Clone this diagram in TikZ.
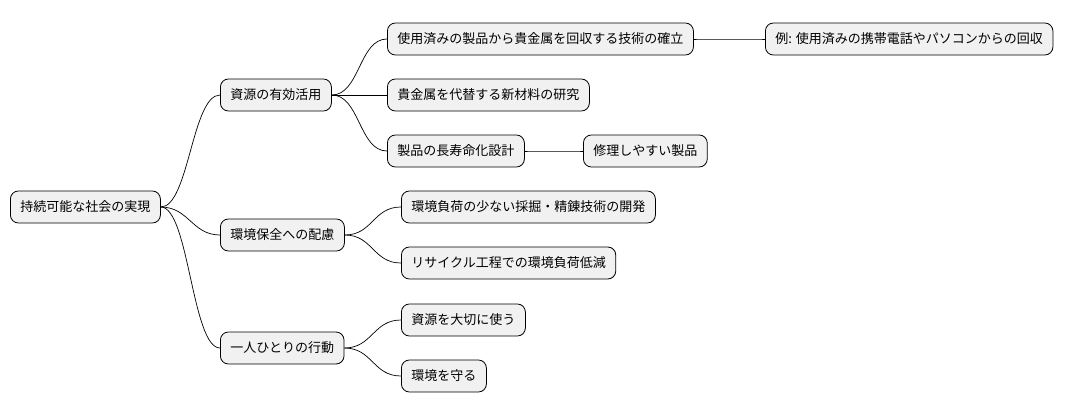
\documentclass[tikz,border=0pt]{standalone}
\usepackage{fontspec}
\setmainfont{Noto Sans CJK JP}
\definecolor{boxfill}{HTML}{F1F1F1}
\tikzset{
  topic/.style={draw=black, fill=boxfill, rounded corners=8pt, line width=0.8pt,
    minimum height=32pt, inner xsep=10pt, anchor=west,
    font=\fontsize{13}{16}\selectfont},
  branch/.style={draw=black, line width=0.7pt}
}
\newcommand{\link}[2]{\draw[branch] (#1.east) .. controls +(28,0) and +(-28,0) .. (#2.west);}
\begin{document}
\begin{tikzpicture}[x=1pt,y=-1pt]
\useasboundingbox (0,0) rectangle (1086,415);

% root
\node[topic] (root) at (10,207) {持続可能な社会の実現};

% first level
\node[topic] (res) at (220,95) {資源の有効活用};
\node[topic] (env) at (220,235) {環境保全への配慮};
\node[topic] (act) at (220,348) {一人ひとりの行動};

% second level
\node[topic] (rec) at (387,39) {使用済みの製品から貴金属を回収する技術の確立};
\node[topic] (alt) at (387,95) {貴金属を代替する新材料の研究};
\node[topic] (life) at (387,151) {製品の長寿命化設計};
\node[topic] (mine) at (401,207) {環境負荷の少ない採掘・精錬技術の開発};
\node[topic] (cyc) at (401,263) {リサイクル工程での環境負荷低減};
\node[topic] (care) at (401,320) {資源を大切に使う};
\node[topic] (prot) at (401,376) {環境を守る};

% third level
\node[topic] (ex) at (765,39) {例: 使用済みの携帯電話やパソコンからの回収};
\node[topic] (fix) at (583,151) {修理しやすい製品};

\foreach \a/\b in {root/res, root/env, root/act, res/rec, res/alt, res/life,
  env/mine, env/cyc, act/care, act/prot, rec/ex, life/fix}
  {\link{\a}{\b}}

\end{tikzpicture}
\end{document}
